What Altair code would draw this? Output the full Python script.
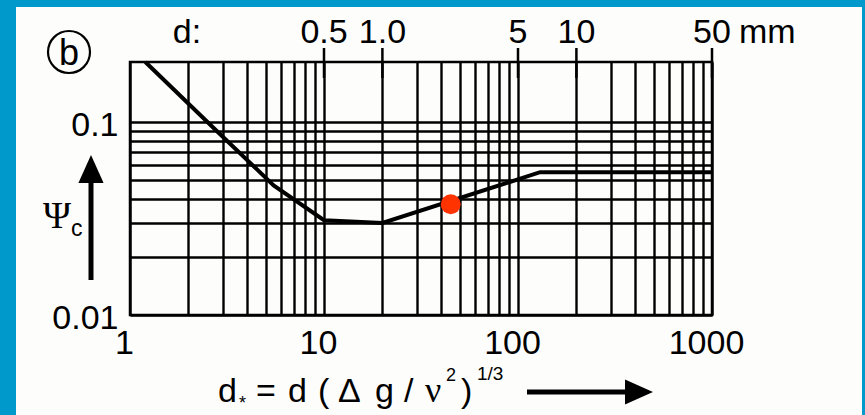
import altair as alt
import pandas as pd

# Critical Shields parameter against dimensionless grain size
curve_dstar = [1.2, 2.8, 5.5, 10, 20, 130, 1000]
curve_psi = [0.205, 0.09, 0.047, 0.031, 0.030, 0.055, 0.055]

# Highlighted grain
point_dstar = [45]
point_psi = [0.0375]

# Lines of the log-log paper
x_grid = [1, 2, 3, 4, 5, 6, 7, 8, 9,
          10, 20, 30, 40, 50, 60, 70, 80, 90,
          100, 200, 300, 400, 500, 600, 700, 800, 900, 1000]
y_grid = [0.01, 0.02, 0.03, 0.04, 0.05, 0.06, 0.07, 0.08, 0.09, 0.1]
x_labels = [1, 10, 100, 1000]
y_labels = [0.01, 0.1]

# Grain diameter scale on top (mm), d* per mm of diameter
d_mm = [0.5, 1.0, 5, 10, 50]
d_mm_labels = ["0.5", "1.0", "5", "10", "50"]
DSTAR_PER_MM = 20

W, H = 582, 253
PAD = {"left": 130, "top": 62, "right": 153, "bottom": 100}
BLUE = "#0099cc"
SANS = "Liberation Sans"
SERIF = "Liberation Serif"
FS = 34

x_scale = alt.Scale(type="log", domain=[1, 1000], nice=False)
y_scale = alt.Scale(type="log", domain=[0.01, 0.205], nice=False)
x_axis = alt.Axis(values=x_grid, labelExpr=f"indexof({x_labels}, datum.value) >= 0 ? '' + datum.value : ''",
                  labelBaseline="alphabetic", labelPadding=38, labelOffset=-6)
y_axis = alt.Axis(values=y_grid, labelExpr=f"indexof({y_labels}, datum.value) >= 0 ? '' + datum.value : ''",
                  labelPadding=12, labelOffset=3)


def X(field):
    return alt.X(f"{field}:Q", scale=x_scale, axis=x_axis, title=None)


def Y(field):
    return alt.Y(f"{field}:Q", scale=y_scale, axis=y_axis, title=None)


one = pd.DataFrame({"k": [0]})


def px(x):
    return alt.value(x - PAD["left"])


def py(y):
    return alt.value(y - PAD["top"])


def label(text, x, y, size, font=SANS, align="left"):
    return alt.Chart(one).mark_text(
        text=text, font=font, fontSize=size, align=align,
        baseline="alphabetic", color="black"
    ).encode(x=px(x), y=py(y))


def band(x0, x1, y0, y1):
    return alt.Chart(one).mark_rect(color=BLUE).encode(
        x=px(x0), x2=px(x1), y=py(y0), y2=py(y1))


curve_df = pd.DataFrame({"d_star": curve_dstar, "psi": curve_psi})
point_df = pd.DataFrame({"d_star": point_dstar, "psi": point_psi})
top_df = pd.DataFrame({"d_star": [v * DSTAR_PER_MM for v in d_mm], "lab": d_mm_labels})
unit_df = top_df.tail(1)

frame = [band(0, 16, 0, 415), band(0, 865, 0, 7), band(862, 865, 0, 415)]

curve = alt.Chart(curve_df).mark_line(color="black", strokeWidth=4).encode(
    x=X("d_star"), y=Y("psi"))

dot = alt.Chart(point_df).mark_circle(size=400, color="#ff3300", opacity=1).encode(
    x=X("d_star"), y=Y("psi"))

top_ticks = alt.Chart(top_df).mark_rule(color="black", strokeWidth=2.5).encode(
    x=X("d_star"), y=alt.value(-14), y2=alt.value(16))

top_labels = alt.Chart(top_df).mark_text(
    font=SANS, fontSize=FS, baseline="alphabetic", align="center", color="black"
).encode(x=X("d_star"), y=alt.value(-19), text="lab:N")

unit = alt.Chart(unit_df).mark_text(
    text="mm", font=SANS, fontSize=FS, baseline="alphabetic", align="left",
    color="black", dx=27
).encode(x=X("d_star"), y=alt.value(-19))

d_colon = label("d:", 187, 43, FS, align="center")

# Panel letter in a circle
ring = alt.Chart(one).mark_point(
    shape="circle", size=1764, filled=False, stroke="black", strokeWidth=2.2, opacity=1
).encode(x=px(69), y=py(52))
letter_b = label("b", 69, 65, 36, align="center")

# Vertical axis symbol and arrow
psi_sym = label("Ψ", 57, 228, 38, font=SERIF, align="center")
psi_sub = label("c", 71, 236, 23)
v_shaft = alt.Chart(one).mark_rule(color="black", strokeWidth=5).encode(
    x=px(91), y=py(178), y2=py(280))
v_head = alt.Chart(one).mark_point(
    shape="M0,-1L0.9,1L-0.9,1Z", size=784, filled=True, color="black", opacity=1
).encode(x=px(91), y=py(169))

# Horizontal axis formula and arrow
title_parts = [
    label("d", 218, 402, FS),
    label("*", 239, 409, 18),
    label("=", 256, 402, FS),
    label("d", 288, 402, FS),
    label("(", 318, 402, FS),
    label("Δ", 338, 402, FS),
    label("g", 375, 402, FS),
    label("/", 404, 402, FS),
    label("ν", 425, 402, 36, font=SERIF),
    label("2", 446, 381, 18),
    label(")", 461, 402, FS),
    label("1/3", 477, 380, 19),
]
h_shaft = alt.Chart(one).mark_rule(color="black", strokeWidth=5).encode(
    x=px(527), x2=px(630), y=py(392))
h_head = alt.Chart(one).mark_point(
    shape="M1,0L-1,0.9L-1,-0.9Z", size=784, filled=True, color="black", opacity=1
).encode(x=px(639), y=py(392))

chart = alt.layer(
    *frame, curve, dot, top_ticks, top_labels, unit, d_colon, ring, letter_b,
    psi_sym, psi_sub, v_shaft, v_head, *title_parts, h_shaft, h_head
).properties(
    width=W, height=H, padding=PAD,
    autosize=alt.AutoSizeParams(type="none"),
    background="#fdfdfc",
).configure_view(
    stroke="black", strokeWidth=2.5
).configure_axis(
    grid=True, gridColor="black", gridWidth=2.4, gridOpacity=1,
    domain=False, ticks=False, labelFont=SANS, labelFontSize=FS,
    labelColor="black", labelOverlap=False, labelFlush=False
)

chart.save("out.html", embed_options={"renderer": "svg", "actions": False})
